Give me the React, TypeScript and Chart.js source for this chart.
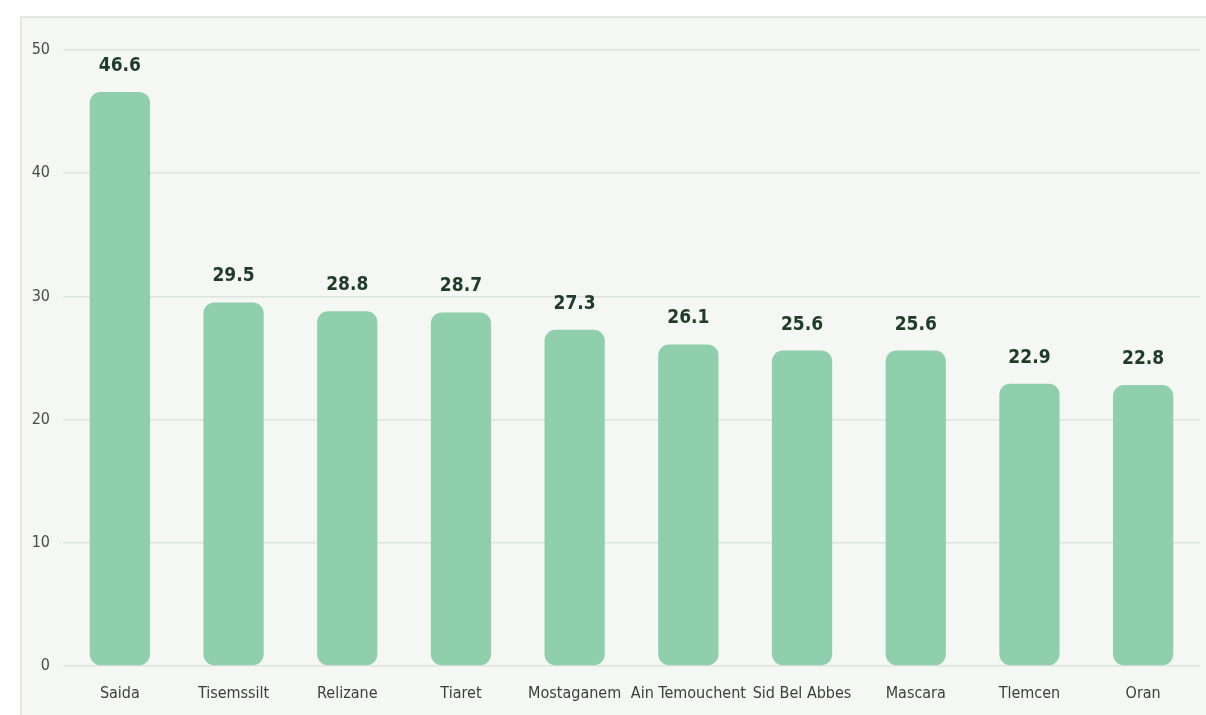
import React, { useEffect, useRef } from "react";
import { Chart, registerables } from "chart.js";

Chart.register(...registerables);

const categories = ["Saida", "Tisemssilt", "Relizane", "Tiaret", "Mostaganem", "Ain Temouchent", "Sid Bel Abbes", "Mascara", "Tlemcen", "Oran"];
const values = [46.6, 29.5, 28.8, 28.7, 27.3, 26.1, 25.6, 25.6, 22.9, 22.8];
const yTicks = [0, 10, 20, 30, 40, 50];

const FONT = "'Liberation Sans Narrow', 'DejaVu Sans Condensed', 'Roboto', sans-serif";

const valueLabels = {
  id: "valueLabels",
  afterDatasetsDraw(chart: any) {
    const ctx = chart.ctx;
    const meta = chart.getDatasetMeta(0);
    ctx.save();
    ctx.fillStyle = "#1e3b2b";
    ctx.font = `bold 19px ${FONT}`;
    ctx.textAlign = "center";
    ctx.textBaseline = "middle";
    meta.data.forEach((bar: any, i: number) => {
      ctx.fillText(values[i].toFixed(1), bar.x, bar.y - 26);
    });
    ctx.restore();
  },
};

export default function App() {
  const ref = useRef<HTMLCanvasElement>(null);
  useEffect(() => {
    if (!ref.current) return;
    const chart = new Chart(ref.current, {
      type: "bar",
      data: {
        labels: categories,
        datasets: [
          {
            data: values,
            backgroundColor: "#8fcfab",
            borderRadius: 11,
            borderSkipped: false,
            categoryPercentage: 1,
            barPercentage: 0.53,
          },
        ],
      },
      options: {
        animation: false,
        responsive: false,
        maintainAspectRatio: false,
        layout: { padding: { top: 50, right: 6, bottom: 0, left: 0 } },
        plugins: { legend: { display: false }, tooltip: { enabled: false } },
        scales: {
          x: {
            grid: { display: false, drawTicks: false },
            border: { display: false },
            ticks: { color: "#3d3d3d", font: { family: FONT, size: 16 }, padding: 18, maxRotation: 0, autoSkip: false },
            afterFit(scale: any) {
              scale.height = 49;
            },
          },
          y: {
            min: 0,
            max: 50,
            afterBuildTicks(scale: any) {
              scale.ticks = yTicks.map((v) => ({ value: v }));
            },
            grid: { color: "#dde3dd", lineWidth: 1.5, drawTicks: false },
            border: { display: false },
            ticks: { color: "#4a4a4a", font: { family: FONT, size: 16 }, padding: 13 },
            afterFit(scale: any) {
              scale.width = 63;
            },
          },
        },
      },
      plugins: [valueLabels],
    });
    return () => chart.destroy();
  }, []);
  return (
    <div style={{ position: "fixed", left: 0, top: 0, width: 1206, height: 715, background: "#ffffff" }}>
      <div
        style={{
          position: "absolute",
          left: 20,
          top: 16,
          right: 0,
          bottom: 0,
          background: "#f4f7f4",
          borderTop: "2px solid #e3e6e3",
          borderLeft: "2px solid #e3e6e3",
        }}
      />
      <canvas ref={ref} width={1206} height={715} style={{ position: "absolute", left: 0, top: 0 }} />
    </div>
  );
}
